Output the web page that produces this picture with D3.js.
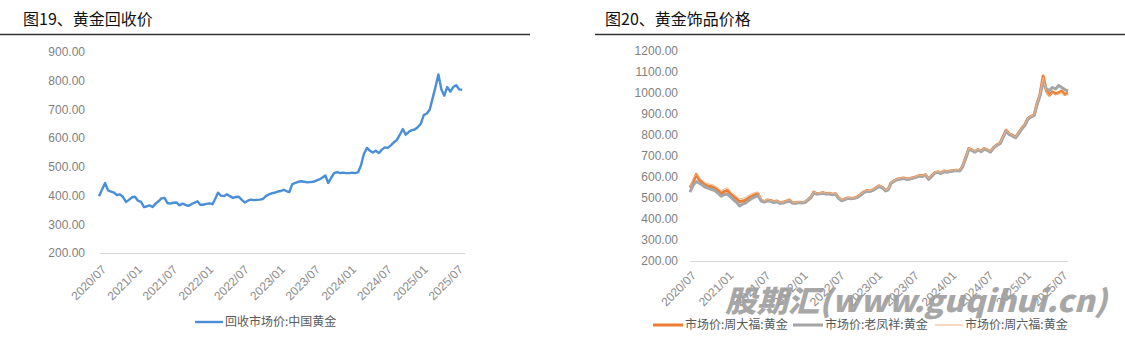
<!DOCTYPE html>
<html>
<head>
<meta charset="utf-8">
<script src="https://cdn.jsdelivr.net/npm/d3@7"></script>
<style>
  body { margin: 0; background: #fff; }
  svg { display: block; font-family: "Noto Sans CJK SC", "Noto Sans", sans-serif; }
</style>
</head>
<body>
<svg id="chart" width="1125" height="337"></svg>
<script>
// ---- data (semi-monthly readings, 2020/07 .. 2025/08) ----
const xTickLabels = ['2020/07','2021/01','2021/07','2022/01','2022/07','2023/01','2023/07','2024/01','2024/07','2025/01','2025/07'];
const yTicks19 = [200, 300, 400, 500, 600, 700, 800, 900];
const yTicks20 = [200, 300, 400, 500, 600, 700, 800, 900, 1000, 1100, 1200];

// 回收市场价:中国黄金
const recycleCN = [
  398,420,444,418,414,410,402,404,395,378,
  385,394,396,382,378,360,362,366,360,372,
  380,390,392,374,372,375,376,366,372,368,
  364,370,375,380,368,368,371,373,370,390,
  410,400,398,405,398,392,395,396,385,376,
  382,386,384,385,386,388,398,404,408,410,
  414,416,420,415,412,440,444,448,450,448,
  446,447,448,452,456,462,470,444,462,478,
  482,478,480,478,478,480,478,482,505,545,
  566,556,550,556,548,560,568,566,575,585,
  594,612,632,612,622,628,630,638,650,680,
  686,700,735,775,822,770,748,778,762,778,
  784,770,768
];
// 市场价:周大福:黄金
const chowTaiFook = [
  548,575,612,585,570,560,555,553,545,535,
  520,530,535,518,505,495,482,485,490,500,
  508,515,518,488,482,490,488,482,485,476,
  480,484,490,478,476,480,478,480,492,505,
  528,520,522,525,520,522,518,520,500,488,
  495,500,498,500,505,515,528,535,532,538,
  548,558,550,535,540,572,582,590,592,595,
  590,592,596,600,606,605,610,590,605,620,
  624,618,628,625,628,630,632,630,650,690,
  735,728,720,730,722,735,728,720,740,752,
  760,790,822,805,798,788,808,830,848,878,
  888,895,945,990,1080,1010,988,1005,995,1000,
  1008,992,998
];
// 市场价:老凤祥:黄金
const laoFengXiang = [
  528,560,578,570,560,550,545,540,535,522,
  508,515,518,505,490,478,462,470,476,488,
  498,505,510,485,480,486,485,478,482,474,
  476,480,486,476,474,478,476,478,490,502,
  524,518,520,522,518,520,515,518,498,486,
  492,498,496,498,502,512,525,532,530,536,
  545,555,548,533,538,570,580,588,590,592,
  588,590,594,598,604,602,608,588,602,618,
  622,616,626,622,626,628,630,628,648,688,
  732,726,718,728,720,732,726,718,738,750,
  758,788,818,802,795,786,805,826,845,875,
  885,892,940,985,1050,1020,1010,1025,1018,1035,
  1025,1015,1008
];
// 市场价:周六福:黄金
const zlf = [
  555,590,615,595,582,572,566,564,556,548,
  534,542,548,532,518,508,495,498,502,512,
  520,526,528,495,486,492,490,484,487,478,
  482,486,492,480,478,482,480,482,494,507,
  530,522,524,527,522,524,520,522,502,490,
  497,502,500,502,507,517,530,537,534,540,
  550,560,552,537,542,574,584,592,594,597,
  592,594,598,602,608,607,612,592,607,622,
  626,620,630,627,630,632,634,632,652,692,
  737,730,722,732,724,737,730,722,742,754,
  762,792,824,807,800,790,810,832,850,880,
  890,897,947,992,1075,1005,985,1000,990,996,
  1002,988,994
];

// date grid: 1st and 16th of each month from 2020-07
const dates = d3.range(recycleCN.length).map(i => new Date(2020, 6 + Math.floor(i / 2), i % 2 ? 16 : 1));
const parseTick = d3.timeParse('%Y/%m');
const tickDates = xTickLabels.map(parseTick);

const svg = d3.select('#chart');

function panel(opt) {
  const g = svg.append('g');

  // title + rule
  g.append('text')
    .attr('x', opt.titleX).attr('y', 25)
    .attr('font-size', 16).attr('fill', '#111')
    .text(opt.title);
  g.append('line')
    .attr('x1', opt.ruleX[0]).attr('x2', opt.ruleX[1])
    .attr('y1', 34.5).attr('y2', 34.5)
    .attr('stroke', '#333').attr('stroke-width', 1.6);

  const x = d3.scaleTime().domain(opt.xDomain).range(opt.xRange);
  const y = d3.scaleLinear().domain([200, opt.yMax]).range(opt.yRange);

  // y axis labels
  const ya = g.append('g')
    .attr('transform', `translate(${opt.yLabelX},0)`)
    .call(d3.axisLeft(y).tickValues(opt.yTicks).tickSize(0).tickPadding(0).tickFormat(d => d.toFixed(2)));
  ya.select('.domain').remove();
  ya.selectAll('text').attr('fill', '#7f7f7f').attr('font-size', 12)
    .style('font-family', '"Liberation Sans", Arial, sans-serif');

  // x axis
  const xa = g.append('g')
    .attr('transform', `translate(0,${y(200)})`)
    .call(d3.axisBottom(x).tickValues(tickDates).tickSize(0).tickSizeOuter(0).tickFormat(d3.timeFormat('%Y/%m')));
  xa.select('.domain').attr('stroke', '#d9d9d9').attr('stroke-width', 1.2);
  xa.selectAll('text')
    .attr('x', 0).attr('y', 0).attr('dy', '0.75em')
    .attr('text-anchor', 'end')
    .attr('transform', `translate(${opt.labelDx},${opt.labelDy}) rotate(-45)`)
    .attr('fill', '#8c8c8c').attr('font-size', 12)
    .style('font-family', '"Liberation Sans", Arial, sans-serif');

  const line = d3.line().x((d, i) => x(dates[i])).y(d => y(d));
  opt.series.forEach(s => {
    g.append('path')
      .datum(s.values)
      .attr('d', line)
      .attr('fill', 'none')
      .attr('stroke', s.color)
      .attr('stroke-width', s.width)
      .attr('stroke-linejoin', 'round');
  });

  // legend
  opt.legend.forEach(l => {
    g.append('line')
      .attr('x1', l.x).attr('x2', l.x + l.len)
      .attr('y1', opt.legendY).attr('y2', opt.legendY)
      .attr('stroke', l.color).attr('stroke-width', l.width);
    g.append('text')
      .attr('x', l.x + l.len + 2).attr('y', opt.legendY).attr('dy', '0.36em')
      .attr('font-size', 12).attr('fill', '#595959')
      .text(l.name);
  });
}

panel({
  title: '图19、黄金回收价', titleX: 23, ruleX: [0, 530],
  xDomain: [new Date(2020, 6, 1), new Date(2025, 7, 15)], xRange: [99, 465],
  yMax: 900, yRange: [253, 52], yTicks: yTicks19, yLabelX: 85,
  labelDx: 1, labelDy: 11,
  series: [{ values: recycleCN, color: '#4a8ed8', width: 2.4 }],
  legendY: 322,
  legend: [{ x: 195, len: 28, color: '#4a8ed8', width: 2.4, name: '回收市场价:中国黄金' }]
});

panel({
  title: '图20、黄金饰品价格', titleX: 605, ruleX: [595, 1125],
  xDomain: [new Date(2020, 6, 1), new Date(2025, 7, 1)], xRange: [690, 1068],
  yMax: 1200, yRange: [261, 50.7], yTicks: yTicks20, yLabelX: 678,
  labelDx: 0, labelDy: 9,
  series: [
    { values: chowTaiFook, color: '#ed7d31', width: 3 },
    { values: laoFengXiang, color: '#a5a5a5', width: 3 },
    { values: zlf, color: '#f4b183', width: 1 }
  ],
  legendY: 325,
  legend: [
    { x: 653, len: 30, color: '#ed7d31', width: 3, name: '市场价:周大福:黄金' },
    { x: 793, len: 30, color: '#a5a5a5', width: 3, name: '市场价:老凤祥:黄金' },
    { x: 935, len: 28, color: '#f4b183', width: 1, name: '市场价:周六福:黄金' }
  ]
});

// watermark
svg.append('text')
  .attr('x', 725).attr('y', 312)
  .attr('font-size', 30).attr('font-weight', 900).attr('font-style', 'italic')
  .attr('fill', '#9e9e9e').attr('opacity', 0.9)
  .attr('textLength', 382).attr('lengthAdjust', 'spacingAndGlyphs')
  .text('股期汇(www.guqihui.cn)');
</script>
</body>
</html>
